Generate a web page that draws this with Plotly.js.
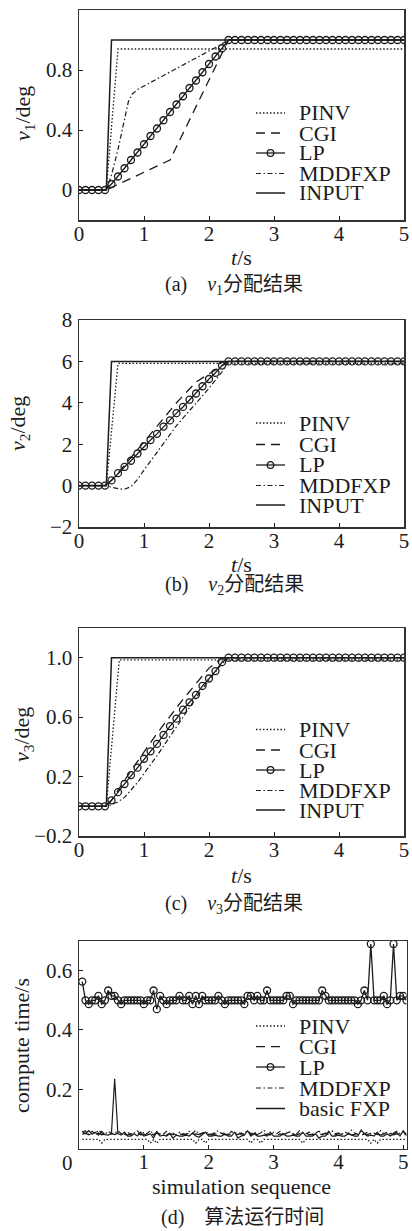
<!DOCTYPE html>
<html><head><meta charset="utf-8">
<script src="https://cdn.plot.ly/plotly-3.0.1.min.js"></script>
<style>html,body{margin:0;padding:0;background:#fff}#chart{width:412px;height:1231px}</style>
</head><body><div id="chart"></div>
<script>
// ---------------- data ----------------
const tLP = [0,0.1,0.2,0.3,0.4,0.5,0.6,0.7,0.8,0.9,1.0,1.1,1.2,1.3,1.4,1.5,1.6,1.7,1.8,1.9,2.0,
  2.1,2.2,2.3,2.4,2.5,2.6,2.7,2.8,2.9,3.0,3.1,3.2,3.3,3.4,3.5,3.6,3.7,3.8,3.9,4.0,
  4.1,4.2,4.3,4.4,4.5,4.6,4.7,4.8,4.9,5.0];

// (a) v1
const v1_LP = [0,0,0,0,0,0.04,0.09,0.145,0.2,0.25,0.305,0.36,0.41,0.465,0.52,0.57,0.625,0.68,0.73,0.785,0.84,
  0.89,0.945,1,1,1,1,1,1,1,1,1,1,1,1,1,1,1,1,1,1,1,1,1,1,1,1,1,1,1,1];
const v1_INPUT_t = [0,0.42,0.5,5];      const v1_INPUT = [0,0,1,1];
const v1_PINV_t  = [0,0.42,0.6,5];      const v1_PINV  = [0,0,0.94,0.94];
const v1_CGI_t   = [0,0.42,1.4,2.3,5];  const v1_CGI   = [0,0,0.2,1,1];
const v1_MDD_t   = [0,0.42,0.5,0.6,0.7,0.76,0.82,0.9,2.1,2.3,5];
const v1_MDD     = [0,0,0.1,0.27,0.47,0.59,0.64,0.67,0.95,1,1];

// (b) v2
const v2_LP = [0,0,0,0,0,0.25,0.6,0.9,1.2,1.55,1.9,2.2,2.5,2.85,3.15,3.5,3.8,4.15,4.45,4.8,5.15,
  5.45,5.8,6,6,6,6,6,6,6,6,6,6,6,6,6,6,6,6,6,6,6,6,6,6,6,6,6,6,6,6];
const v2_INPUT_t = [0,0.42,0.5,5];      const v2_INPUT = [0,0,6,6];
const v2_PINV_t  = [0,0.42,0.6,5];      const v2_PINV  = [0,0,5.9,5.9];
const v2_CGI_t   = [0,0.42,0.6,1.0,1.5,1.8,2.0,2.3,5];
const v2_CGI     = [0,0,0.6,2.1,4.0,5.0,5.4,6,6];
const v2_MDD_t   = [0,0.42,0.5,0.6,0.7,0.8,0.9,1.0,1.5,2.0,2.2,2.3,5];
const v2_MDD     = [0,0,-0.08,-0.15,-0.18,-0.05,0.3,0.75,2.9,4.7,5.5,6,6];

// (c) v3
const v3_LP = [0,0,0,0,0,0.04,0.095,0.15,0.21,0.26,0.32,0.37,0.42,0.48,0.54,0.59,0.65,0.7,0.75,0.81,0.86,
  0.91,0.97,1,1,1,1,1,1,1,1,1,1,1,1,1,1,1,1,1,1,1,1,1,1,1,1,1,1,1,1];
const v3_INPUT_t = [0,0.42,0.5,5];      const v3_INPUT = [0,0,1,1];
const v3_PINV_t  = [0,0.42,0.62,5];     const v3_PINV  = [0,0,0.985,0.985];
const v3_CGI_t   = [0,0.42,0.5,0.8,1.2,1.6,2.0,2.2,5];
const v3_CGI     = [0,0,0.04,0.24,0.49,0.72,0.93,1,1];
const v3_MDD_t   = [0,0.42,0.5,0.6,0.7,0.8,0.9,1.0,1.2,1.4,1.6,1.8,2.0,2.2,2.3,5];
const v3_MDD     = [0,0,0.01,0.03,0.06,0.11,0.16,0.22,0.34,0.47,0.6,0.73,0.85,0.96,1,1];

// (d) compute time
const seq = [0.05,0.1,0.15,0.2,0.25,0.3,0.35,0.4,0.45,0.5,
  0.55,0.6,0.65,0.7,0.75,0.8,0.85,0.9,0.95,1.0,
  1.05,1.1,1.15,1.2,1.25,1.3,1.35,1.4,1.45,1.5,
  1.55,1.6,1.65,1.7,1.75,1.8,1.85,1.9,1.95,2.0,
  2.05,2.1,2.15,2.2,2.25,2.3,2.35,2.4,2.45,2.5,
  2.55,2.6,2.65,2.7,2.75,2.8,2.85,2.9,2.95,3.0,
  3.05,3.1,3.15,3.2,3.25,3.3,3.35,3.4,3.45,3.5,
  3.55,3.6,3.65,3.7,3.75,3.8,3.85,3.9,3.95,4.0,
  4.05,4.1,4.15,4.2,4.25,4.3,4.35,4.4,4.45,4.5,
  4.55,4.6,4.65,4.7,4.75,4.8,4.85,4.9,4.95,5.0,
  5.05];
const ct_LP = [0.563,0.500,0.487,0.500,0.500,0.515,0.487,0.500,0.533,0.515,
  0.515,0.500,0.487,0.500,0.500,0.500,0.500,0.500,0.500,0.487,
  0.500,0.500,0.533,0.470,0.515,0.500,0.487,0.500,0.500,0.500,
  0.515,0.500,0.500,0.515,0.487,0.515,0.487,0.515,0.500,0.500,
  0.500,0.500,0.515,0.500,0.487,0.500,0.500,0.500,0.500,0.500,
  0.487,0.515,0.515,0.500,0.515,0.500,0.500,0.533,0.500,0.500,
  0.500,0.500,0.500,0.515,0.515,0.487,0.500,0.500,0.500,0.500,
  0.500,0.500,0.500,0.500,0.533,0.515,0.500,0.500,0.500,0.500,
  0.500,0.500,0.500,0.500,0.500,0.487,0.500,0.533,0.500,0.690,
  0.500,0.500,0.500,0.515,0.487,0.500,0.690,0.500,0.515,0.515,
  0.500];
const ct_FXP = [0.058,0.050,0.060,0.048,0.055,0.045,0.058,0.047,0.045,0.050,
  0.235,0.050,0.045,0.055,0.042,0.042,0.050,0.042,0.055,0.042,
  0.045,0.050,0.035,0.058,0.042,0.045,0.042,0.050,0.035,0.045,
  0.042,0.042,0.045,0.042,0.052,0.042,0.038,0.045,0.055,0.042,
  0.042,0.045,0.042,0.042,0.050,0.042,0.042,0.055,0.035,0.042,
  0.045,0.060,0.042,0.050,0.042,0.042,0.045,0.042,0.055,0.042,
  0.042,0.042,0.050,0.042,0.042,0.045,0.042,0.042,0.055,0.042,
  0.042,0.042,0.050,0.035,0.042,0.042,0.058,0.042,0.042,0.045,
  0.042,0.042,0.050,0.045,0.042,0.042,0.062,0.050,0.042,0.045,
  0.042,0.055,0.042,0.042,0.050,0.042,0.048,0.055,0.042,0.060,
  0.042];
const ct_MDD = [0.055,0.060,0.048,0.058,0.050,0.062,0.052,0.048,0.058,0.050,
  0.052,0.060,0.050,0.048,0.056,0.045,0.052,0.060,0.048,0.055,
  0.050,0.062,0.045,0.055,0.050,0.048,0.058,0.050,0.052,0.045,
  0.055,0.050,0.048,0.058,0.050,0.062,0.048,0.052,0.056,0.050,
  0.048,0.055,0.060,0.050,0.052,0.045,0.058,0.050,0.055,0.048,
  0.052,0.060,0.050,0.056,0.048,0.052,0.062,0.050,0.045,0.055,
  0.050,0.058,0.048,0.052,0.056,0.050,0.048,0.060,0.052,0.050,
  0.055,0.048,0.052,0.058,0.050,0.045,0.055,0.060,0.050,0.052,
  0.048,0.056,0.050,0.062,0.052,0.048,0.058,0.050,0.055,0.050,
  0.052,0.048,0.060,0.050,0.055,0.048,0.052,0.058,0.050,0.056,
  0.050];
const ct_CGI = [0.048,0.052,0.046,0.050,0.047,0.052,0.046,0.049,0.045,0.050,
  0.047,0.052,0.046,0.048,0.045,0.050,0.047,0.052,0.046,0.048,
  0.045,0.050,0.047,0.052,0.046,0.049,0.045,0.051,0.047,0.046,
  0.050,0.046,0.048,0.052,0.045,0.049,0.047,0.051,0.046,0.048,
  0.045,0.050,0.047,0.052,0.046,0.048,0.045,0.050,0.047,0.052,
  0.046,0.049,0.045,0.051,0.047,0.046,0.050,0.046,0.048,0.052,
  0.045,0.049,0.047,0.051,0.046,0.048,0.045,0.050,0.047,0.052,
  0.046,0.048,0.045,0.050,0.047,0.052,0.046,0.049,0.045,0.051,
  0.047,0.046,0.050,0.046,0.048,0.052,0.045,0.049,0.047,0.051,
  0.046,0.048,0.045,0.050,0.047,0.052,0.046,0.049,0.045,0.050,
  0.047];
const ct_PINV = [0.031,0.031,0.031,0.031,0.031,0.031,0.018,0.031,0.031,0.031,
  0.031,0.031,0.031,0.031,0.031,0.031,0.031,0.031,0.031,0.031,
  0.031,0.018,0.031,0.018,0.031,0.031,0.031,0.031,0.031,0.031,
  0.031,0.031,0.031,0.031,0.031,0.018,0.031,0.031,0.018,0.031,
  0.031,0.031,0.031,0.031,0.031,0.031,0.031,0.031,0.031,0.031,
  0.031,0.031,0.018,0.031,0.031,0.018,0.031,0.031,0.031,0.031,
  0.031,0.031,0.031,0.031,0.031,0.031,0.031,0.031,0.018,0.031,
  0.031,0.031,0.031,0.031,0.031,0.031,0.031,0.031,0.031,0.031,
  0.031,0.031,0.031,0.031,0.031,0.031,0.031,0.031,0.031,0.018,
  0.031,0.018,0.031,0.031,0.031,0.031,0.031,0.031,0.031,0.031,
  0.031];

const names5 = ['PINV','CGI','LP','MDDFXP','INPUT'];
const names4 = ['PINV','CGI','LP','MDDFXP','basic FXP'];

// ---------------- styles ----------------
const W = 412, H = 1231;
const INK = '#1c1c1c';
const FONT = 'Liberation Serif, Noto Sans CJK SC, serif';
const ST = {
  PINV:  {color: INK, width: 1.3, dash: '1.5px,2px'},
  CGI:   {color: INK, width: 1.3, dash: '9px,6px'},
  MDD:   {color: INK, width: 1.2, dash: '5px,2.5px,1.5px,2.5px'},
  SOLID: {color: INK, width: 1.5, dash: 'solid'},
  LP:    {color: INK, width: 1.3, dash: 'solid'}
};
const LPmarker = {symbol: 'circle-open', size: 7, color: INK, line: {width: 1.3, color: INK}};

const px = x => x / W;
const py = y => 1 - y / H;

function line(x, y, style, xa, ya, name) {
  return {type: 'scatter', mode: 'lines', x, y, line: style, xaxis: xa, yaxis: ya, name, showlegend: false, hoverinfo: 'skip'};
}
function lp(x, y, xa, ya) {
  return {type: 'scatter', mode: 'lines+markers', x, y, line: ST.LP, marker: LPmarker, xaxis: xa, yaxis: ya, name: 'LP', showlegend: false, hoverinfo: 'skip'};
}

const data = [
  line(v1_PINV_t, v1_PINV, ST.PINV, 'x', 'y', 'PINV'),
  line(v1_CGI_t, v1_CGI, ST.CGI, 'x', 'y', 'CGI'),
  line(v1_MDD_t, v1_MDD, ST.MDD, 'x', 'y', 'MDDFXP'),
  line(v1_INPUT_t, v1_INPUT, ST.SOLID, 'x', 'y', 'INPUT'),
  lp(tLP, v1_LP, 'x', 'y'),

  line(v2_PINV_t, v2_PINV, ST.PINV, 'x2', 'y2', 'PINV'),
  line(v2_CGI_t, v2_CGI, ST.CGI, 'x2', 'y2', 'CGI'),
  line(v2_MDD_t, v2_MDD, ST.MDD, 'x2', 'y2', 'MDDFXP'),
  line(v2_INPUT_t, v2_INPUT, ST.SOLID, 'x2', 'y2', 'INPUT'),
  lp(tLP, v2_LP, 'x2', 'y2'),

  line(v3_PINV_t, v3_PINV, ST.PINV, 'x3', 'y3', 'PINV'),
  line(v3_CGI_t, v3_CGI, ST.CGI, 'x3', 'y3', 'CGI'),
  line(v3_MDD_t, v3_MDD, ST.MDD, 'x3', 'y3', 'MDDFXP'),
  line(v3_INPUT_t, v3_INPUT, ST.SOLID, 'x3', 'y3', 'INPUT'),
  lp(tLP, v3_LP, 'x3', 'y3'),

  line(seq, ct_PINV, ST.PINV, 'x4', 'y4', 'PINV'),
  line(seq, ct_CGI, ST.CGI, 'x4', 'y4', 'CGI'),
  line(seq, ct_MDD, ST.MDD, 'x4', 'y4', 'MDDFXP'),
  line(seq, ct_FXP, {color: INK, width: 1.2, dash: 'solid'}, 'x4', 'y4', 'basic FXP'),
  lp(seq, ct_LP, 'x4', 'y4')
];

// ---------------- axes ----------------
const tickfont = {family: FONT, size: 21, color: INK};
function xax(dom, range, anchor, tickvals) {
  return {domain: dom, range, anchor, tickvals, ticks: 'inside', ticklen: 4, tickwidth: 1, tickcolor: INK,
    showline: true, mirror: true, linecolor: '#333', linewidth: 1.5, showgrid: false, zeroline: false,
    tickfont, ticklabelstandoff: -6, fixedrange: true};
}
function yax(dom, range, anchor, tickvals, ticktext) {
  const a = {domain: dom, range, anchor, tickvals, ticks: 'inside', ticklen: 4, tickwidth: 1, tickcolor: INK,
    showline: true, mirror: true, linecolor: '#333', linewidth: 1.5, showgrid: false, zeroline: false,
    tickfont, ticklabelstandoff: 1, fixedrange: true};
  if (ticktext) a.ticktext = ticktext;
  return a;
}
const xdom = [px(79), px(404)];
const xdom4 = [px(79), px(406.5)];

const layout = {
  width: W, height: H, margin: {l: 0, r: 0, t: 0, b: 0},
  paper_bgcolor: '#fff', plot_bgcolor: '#fff', showlegend: false,
  xaxis:  xax(xdom, [0, 5], 'y', [0,1,2,3,4,5]),
  yaxis:  yax([py(220), py(10)], [-0.2, 1.2], 'x', [0,0.4,0.8,1.2], ['0','0.4','0.8','1.2']),
  xaxis2: xax(xdom, [0, 5], 'y2', [0,1,2,3,4,5]),
  yaxis2: yax([py(527), py(320)], [-2, 8], 'x2', [-2,0,2,4,6,8]),
  xaxis3: xax(xdom, [0, 5], 'y3', [0,1,2,3,4,5]),
  yaxis3: yax([py(836), py(628)], [-0.2, 1.2], 'x3', [-0.2,0.2,0.6,1.0], ['\u22120.2','0.2','0.6','1.0']),
  xaxis4: xax(xdom4, [0, 5.05], 'y4', [1,2,3,4,5]),
  yaxis4: yax([py(1148.5), py(941)], [0, 0.7], 'x4', [0.2,0.4,0.6]),
  shapes: [], annotations: []
};

// ---------------- texts ----------------
function ann(text, x, y, size, opts) {
  return Object.assign({text, x: px(x), y: py(y), xref: 'paper', yref: 'paper', showarrow: false,
    xanchor: 'center', yanchor: 'middle', font: {family: FONT, size, color: INK}}, opts || {});
}
const A = layout.annotations;
A.push(ann('<i>v</i><sub>1</sub>/deg', 24, 114, 22, {textangle: -90}));
A.push(ann('<i>v</i><sub>2</sub>/deg', 19, 424, 22, {textangle: -90}));
A.push(ann('<i>v</i><sub>3</sub>/deg', 23, 735, 22, {textangle: -90}));
A.push(ann('compute time/s', 21, 1046, 22, {textangle: -90}));
A.push(ann('<i>t</i>/s', 242, 257, 22));
A.push(ann('<i>t</i>/s', 242, 565, 22));
A.push(ann('<i>t</i>/s', 242, 875, 22));
A.push(ann('simulation sequence', 242, 1186, 22));
A.push(ann('(a)\u2003<i>v</i><sub>1</sub>分配结果', 234, 285, 20));
A.push(ann('(b)\u2003<i>v</i><sub>2</sub>分配结果', 234, 585, 20));
A.push(ann('(c)\u2003<i>v</i><sub>3</sub>分配结果', 234, 904, 20));
A.push(ann('(d)\u2003算法运行时间', 243, 1217, 20));
A.push(ann('0', 67, 1163, 21));

// ---------------- legends ----------------
const legendStyles = [ST.PINV, ST.CGI, ST.LP, ST.MDD, ST.SOLID];
function legend(names, ys) {
  names.forEach((n, i) => {
    const y = ys[i];
    layout.shapes.push({type: 'line', xref: 'paper', yref: 'paper', x0: px(256), x1: px(285), y0: py(y), y1: py(y),
      line: {color: INK, width: legendStyles[i].width, dash: legendStyles[i].dash}});
    if (n === 'LP') {
      layout.shapes.push({type: 'circle', xref: 'paper', yref: 'paper', x0: px(267.2), x1: px(273.8), y0: py(y + 3.3), y1: py(y - 3.3),
        line: {color: INK, width: 1.3}, fillcolor: 'rgba(255,255,255,0)'});
    }
    A.push(ann(n, 297, y, 22, {xanchor: 'left'}));
  });
}
legend(names5, [113, 133, 153, 173.5, 193]);
legend(names5, [423, 444.5, 465, 485.5, 505]);
legend(names5, [729.5, 750, 770, 790.5, 810]);
legend(names4, [1026, 1046.7, 1067, 1088, 1108.5]);

Plotly.newPlot('chart', data, layout, {staticPlot: true});
</script></body></html>
